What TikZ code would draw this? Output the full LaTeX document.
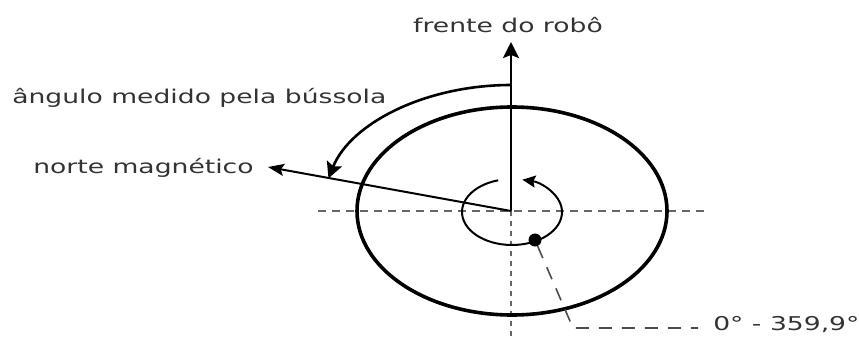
\documentclass[tikz,border=0pt]{standalone}
\usepackage{fontspec}
\setmainfont{DejaVu Sans}
\usetikzlibrary{arrows.meta,shapes.geometric}
\begin{document}
\begin{tikzpicture}[x=1pt,y=1pt,
  lbl/.style={inner sep=0pt, xscale=1.4, text=black!80, font=\fontsize{19}{23}\selectfont},
  hguide/.style={draw=black!60, line width=1.8pt, dash pattern=on 8pt off 6pt},
  vguide/.style={draw=black!60, line width=1.8pt, dash pattern=on 5pt off 5pt},
  leader/.style={draw=black!70, line width=1.6pt, dash pattern=on 13pt off 10pt},
  bigarrow/.style={draw=black, line width=2.6pt, -{Stealth[length=16pt,width=16pt,inset=3pt]}},
  thinarrow/.style={draw=black, line width=2pt, -{Stealth[length=16pt,width=12pt,inset=3pt]}},
  rotarrow/.style={draw=black, line width=2pt, -{Stealth[length=13pt,width=12pt,inset=2pt]}},
  disk/.style={draw=black, line width=3.6pt, ellipse, minimum width=310pt, minimum height=208pt, inner sep=0pt}]
\useasboundingbox (0,0) rectangle (859,338);
% coordinates
\coordinate (c) at (511,127);
\coordinate (hl) at (318,127);
\coordinate (hr) at (705,127);
\coordinate (vb) at (511,0);
\coordinate (ftip) at (511,296);
\coordinate (ntip) at (268,171);
\coordinate (bend) at (573,10);
\coordinate (lend) at (698,10);
% guides
\draw[hguide] (hl) -- (hr);
\draw[vguide] (c) -- (vb);
% disk
\node[disk] (robot) at (512,127) {};
% labels
\node[lbl, anchor=base] (front) at (508,305) {frente do robô};
\node[lbl, anchor=base west] (compass) at (12,234) {ângulo medido pela bússola};
\node[lbl, anchor=base west] (north) at (33,165) {norte magnético};
\node[lbl, anchor=base west] (range) at (713,8) {0° - 359,9°};
% arrows
\draw[bigarrow] (c) -- (ftip);
\draw[thinarrow] (c) -- (ntip);
\draw[bigarrow] ([shift={(90:189 and 126)}]c) arc[start angle=90, end angle=165, x radius=189, y radius=126];
\draw[rotarrow] ([shift={(106:50 and 33)}]512,126) arc[start angle=106, end angle=438, x radius=50, y radius=33];
% dot and leader
\node[circle, fill=black, minimum size=13pt, inner sep=0pt] (dot) at (535,98) {};
\draw[leader] (dot) -- (bend) -- (lend);
\end{tikzpicture}
\end{document}
